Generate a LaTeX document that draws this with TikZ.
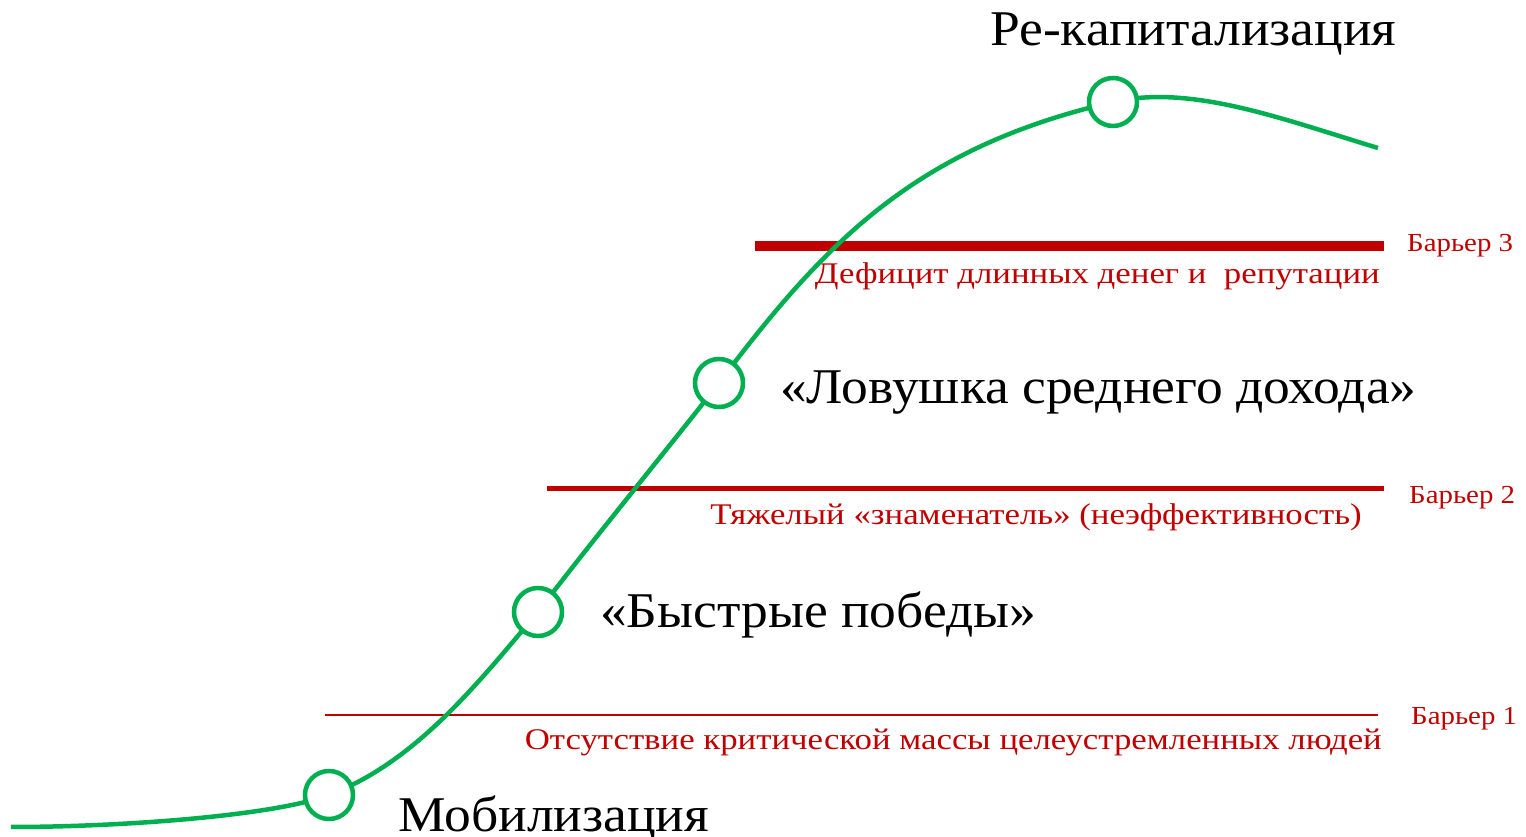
\documentclass[tikz,border=0pt]{standalone}
\usepackage{fontspec}
\setmainfont{Liberation Serif}
\newfontfamily\stagefont[FakeStretch=1.07]{Liberation Serif}
\newfontfamily\barfont[FakeStretch=1.16]{Liberation Serif}
\newfontfamily\barnamefont[FakeStretch=1.11]{Liberation Serif}
\usepackage{tikz}
\usetikzlibrary{positioning}
\definecolor{stagegreen}{HTML}{00B050}
\definecolor{barrierred}{HTML}{C00000}

\begin{document}
\begin{tikzpicture}[x=1pt, y=1pt,
    curve/.style={stagegreen, line width=4.5pt},
    stage/.style={circle, draw=stagegreen, line width=4.5pt, fill=white, minimum size=48pt, inner sep=0pt},
    stagetext/.style={font=\stagefont\fontsize{50}{50}\selectfont, text=black, inner sep=0pt, anchor=west},
    bartext/.style={font=\barfont\fontsize{30}{30}\selectfont, text=barrierred, inner sep=0pt, anchor=east},
    barname/.style={font=\barnamefont\fontsize{26}{26}\selectfont, text=barrierred, inner sep=0pt, anchor=west}]

    \useasboundingbox (0,0) rectangle (1526,837);

    % Barriers
    \draw[barrierred, line width=2pt] (325,122) -- (1378,122);
    \draw[barrierred, line width=5pt] (547,348) -- (1384,348);
    \draw[barrierred, line width=10pt] (755,591) -- (1384,591);

    \node[barname] (b1) at (1411,118) {Барьер 1};
    \node[barname] (b2) at (1409,339) {Барьер 2};
    \node[barname] (b3) at (1407,591) {Барьер 3};

    \node[bartext] (t1) at (1382,95) {Отсутствие критической массы целеустремленных людей};
    \node[bartext] (t2) at (1362,320) {Тяжелый «знаменатель» (неэффективность)};
    \node[bartext] (t3) at (1380,561) {Дефицит длинных денег и\ \ репутации};

    % S-curve
    \coordinate (start) at (11,10);
    \coordinate (p1) at (329,42);
    \coordinate (p2) at (538,225);
    \coordinate (p3) at (719,454);
    \coordinate (p4) at (1113,735);
    \coordinate (end) at (1378,689);
    \draw[curve] (start) .. controls +(109,0) and +(-56,-21) .. (p1)
      .. controls +(87,33) and +(-60,-71) .. (p2)
      .. controls +(45,60) and +(-45,-58) .. (p3)
      .. controls +(108,144) and +(-195,-45) .. (p4)
      .. controls +(78,18) and +(-96,29) .. (end);

    % Stages
    \node[stage] (m1) at (p1) {};
    \node[stage] (m2) at (p2) {};
    \node[stage] (m3) at (p3) {};
    \node[stage] (m4) at (p4) {};

    \node[stagetext] (s1) at (398,19) {Мобилизация};
    \node[stagetext] (s2) at (600,222) {«Быстрые победы»};
    \node[stagetext] (s3) at (780,444) {«Ловушка среднего дохода»};
    \node[stagetext] (s4) at (990,803) {Ре-капитализация};

\end{tikzpicture}
\end{document}
